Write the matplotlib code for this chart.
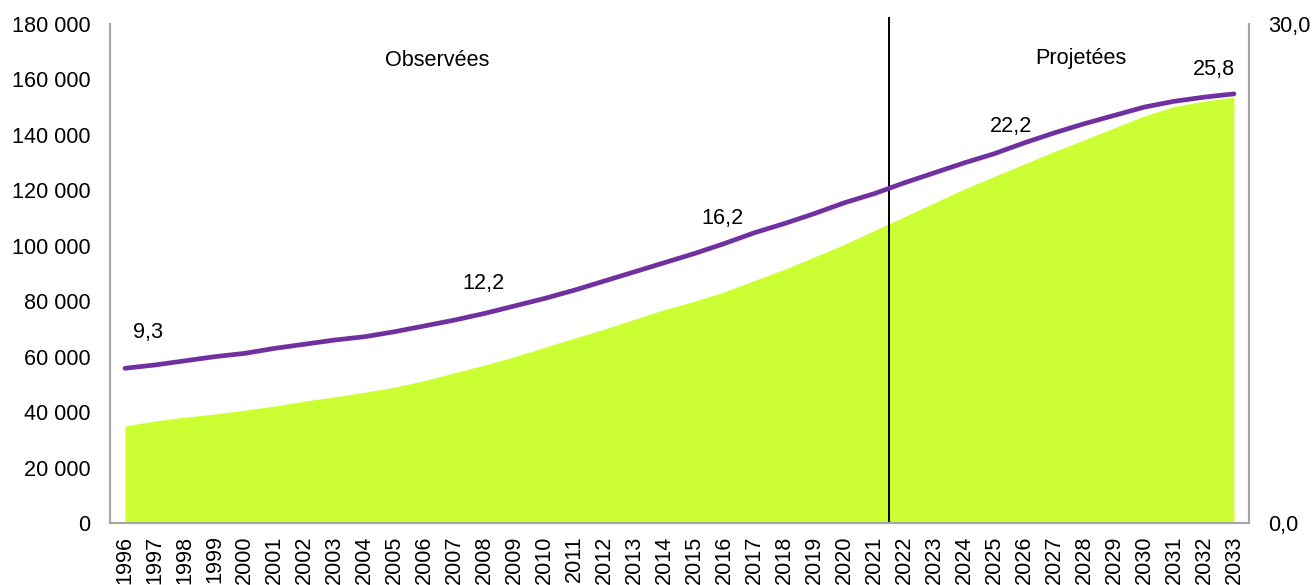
import matplotlib
matplotlib.use("Agg")
import matplotlib.pyplot as plt

plt.rcParams["font.family"] = ["Liberation Sans", "DejaVu Sans"]

# Data
years = list(range(1996, 2034))

# left axis: green area (count)
area_values = [
    35000, 36800, 38200, 39300, 40700, 42200, 44000, 45500, 47200, 49000,
    51400, 54200, 57000, 60000, 63400, 66700, 70000, 73500, 77000, 80000,
    83400, 87500, 91500, 96000, 100500, 105500, 110500, 115500, 120500, 125000,
    129500, 134000, 138200, 142500, 146800, 150200, 152200, 153700,
]

# right axis: purple line (share)
line_values = [
    9.3, 9.5, 9.75, 10.0, 10.2, 10.5, 10.75, 11.0, 11.2, 11.5,
    11.85, 12.2, 12.6, 13.05, 13.5, 14.0, 14.55, 15.1, 15.65, 16.2,
    16.8, 17.45, 18.0, 18.6, 19.25, 19.8, 20.45, 21.05, 21.65, 22.2,
    22.85, 23.45, 24.0, 24.5, 25.0, 25.35, 25.6, 25.8,
]

# which points carry a value label, and the label offset in pixels
label_years = [1996, 2007, 2015, 2025, 2033]
label_offsets = [(23, 36), (29, 37), (28, 35), (17, 27), (-20, 24)]

split_between = (2021, 2022)
left_ticks = [0, 20000, 40000, 60000, 80000, 100000, 120000, 140000, 160000, 180000]

GREEN = "#CCFF33"
PURPLE = "#7030A0"
GREY = "#A6A6A6"
FS = 15.6

fig = plt.figure(figsize=(13.14, 5.85), dpi=100)
ax = fig.add_axes([0.0837, 0.106, 0.8668, 0.853])
x = list(range(len(years)))

ax.fill_between(x, 0, area_values, color=GREEN, lw=0, zorder=1)
ax.set_xlim(-0.5, len(years) - 0.5)
ax.set_ylim(0, 180000)
ax.set_yticks(left_ticks)
ax.set_yticklabels([f"{v:,}".replace(",", " ") for v in left_ticks], fontsize=FS)
ax.set_xticks(x)
ax.set_xticklabels([str(y) for y in years], rotation=90, fontsize=FS)
ax.tick_params(axis="both", length=0)
ax.tick_params(axis="y", pad=14)
ax.tick_params(axis="x", pad=9)

# split line between observed and projected
split_x = (years.index(split_between[0]) + years.index(split_between[1])) / 2
ax.axvline(split_x, ymin=0, ymax=1.012, color="black", lw=1.4, clip_on=False, zorder=2)

ax.text(10.4, 166700, "Observées", fontsize=FS, ha="center", va="center")
ax.text(31.9, 167400, "Projetées", fontsize=FS, ha="center", va="center")

ax2 = ax.twinx()
ax2.plot(x, line_values, color=PURPLE, lw=3.4, solid_capstyle="round", zorder=3)
ax2.set_ylim(0, 30)
ax2.set_yticks([0, 30])
ax2.set_yticklabels(["0,0", "30,0"], fontsize=FS)
ax2.tick_params(axis="y", length=0, pad=13.5)

for yr, (dx, dy) in zip(label_years, label_offsets):
    i = years.index(yr)
    v = line_values[i]
    ax2.annotate(f"{v:.1f}".replace(".", ","), (i, v), xytext=(dx, dy),
                 textcoords="offset pixels", ha="center", va="center", fontsize=FS)

for a in (ax, ax2):
    a.spines["top"].set_visible(False)
    for side in ("left", "right", "bottom"):
        a.spines[side].set_color(GREY)
        a.spines[side].set_linewidth(1.5)

fig.savefig("out.png", dpi=100)
